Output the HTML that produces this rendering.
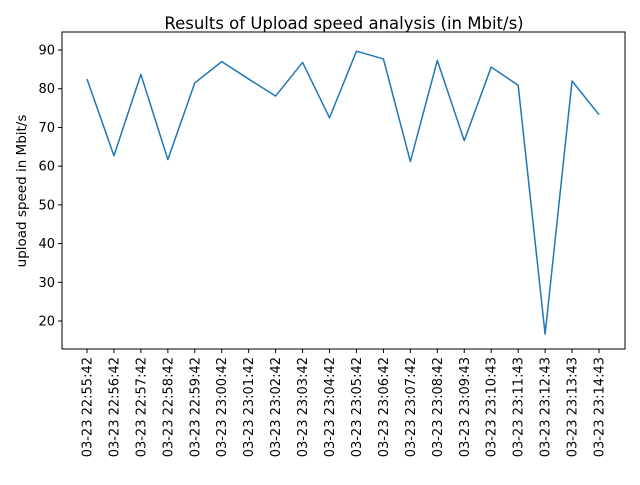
<!DOCTYPE html>
<html><head><meta charset="utf-8"><style>
body{margin:0;background:#fff;}
svg text{font-family:"DejaVu Sans","Liberation Sans",sans-serif;fill:#000;}
</style></head><body>
<svg width="640" height="480" viewBox="0 0 640 480">
<rect x="0" y="0" width="640" height="480" fill="#fff"/>
<text x="344" y="29" font-size="16.5" text-anchor="middle">Results of Upload speed analysis (in Mbit/s)</text>
<text transform="translate(26,191) rotate(-90)" font-size="13.5" text-anchor="middle">upload speed in Mbit/s</text>
<g id="yaxis"></g>
<g id="xaxis"></g>
<path id="line" fill="none" stroke="#1f77b4" stroke-width="1.5" stroke-linejoin="round"/>
<rect x="62" y="32" width="563" height="317" fill="none" stroke="#000" stroke-width="1"/>
</svg>
<script>
const categories=["03-23 22:55:42","03-23 22:56:42","03-23 22:57:42","03-23 22:58:42","03-23 22:59:42","03-23 23:00:42","03-23 23:01:42","03-23 23:02:42","03-23 23:03:42","03-23 23:04:42","03-23 23:05:42","03-23 23:06:42","03-23 23:07:42","03-23 23:08:42","03-23 23:09:43","03-23 23:10:43","03-23 23:11:43","03-23 23:12:43","03-23 23:13:43","03-23 23:14:43"];
const speeds=[82.5,62.7,83.7,61.7,81.5,87.0,82.5,78.1,86.8,72.5,89.7,87.7,61.2,87.3,66.6,85.6,80.9,16.6,82.0,73.3];
const yTicks=[20,30,40,50,60,70,80,90];
const NS="http://www.w3.org/2000/svg";
function xPos(i){return 87+i*(512/(categories.length-1));}
function yPos(v){return 321-(v-20)*3.871;}
const ya=document.getElementById('yaxis'),xa=document.getElementById('xaxis');
yTicks.forEach(t=>{
 const y=yPos(t);
 const l=document.createElementNS(NS,'line');
 l.setAttribute('x1',58);l.setAttribute('x2',62);l.setAttribute('y1',y);l.setAttribute('y2',y);l.setAttribute('stroke','#000');
 
 
 ya.appendChild(l);
 const tx=document.createElementNS(NS,'text');
 tx.setAttribute('x',55);tx.setAttribute('y',y+4.5);tx.setAttribute('font-size','13');tx.setAttribute('text-anchor','end');
 tx.textContent=t;
 
 
 ya.appendChild(tx);
});
categories.forEach((c,i)=>{
 const x=xPos(i);
 const l=document.createElementNS(NS,'line');
 l.setAttribute('x1',x);l.setAttribute('x2',x);l.setAttribute('y1',349);l.setAttribute('y2',353);l.setAttribute('stroke','#000');
 
 
 xa.appendChild(l);
 const tx=document.createElementNS(NS,'text');
 tx.setAttribute('transform','translate('+(x+4.5)+',357) rotate(-90)');
 tx.setAttribute('font-size','13');tx.setAttribute('text-anchor','end');
 tx.textContent=c;
 
 
 xa.appendChild(tx);
});
document.getElementById('line').setAttribute('d',speeds.map((v,i)=>(i?'L':'M')+xPos(i).toFixed(2)+','+yPos(v).toFixed(2)).join(' '));
</script>
</body></html>
